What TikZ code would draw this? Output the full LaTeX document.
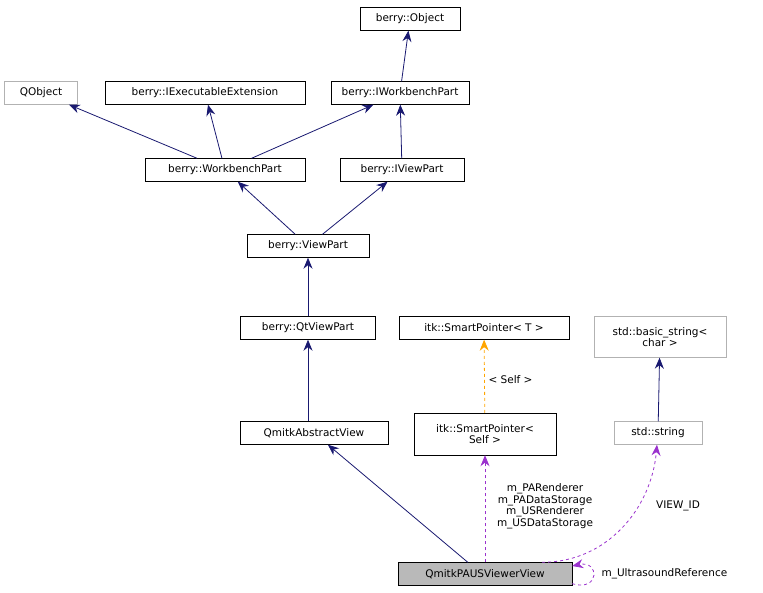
\documentclass[tikz,border=0pt]{standalone}
\usepackage{fontspec}
\setmainfont{DejaVu Sans}
\usetikzlibrary{arrows.meta}
\definecolor{edgeblue}{HTML}{191970}
\definecolor{usepurple}{HTML}{9A32CD}
\definecolor{tplorange}{HTML}{FFA500}
\begin{document}
\begin{tikzpicture}[x=1pt,y=-1pt,font=\fontsize{10.5}{11.5}\selectfont,
  cls/.style={draw=black,fill=white,inner sep=2pt,minimum height=23pt,align=center},
  ext/.style={cls,draw=gray!60},
  inh/.style={-{Stealth[length=11pt,width=9pt]},color=edgeblue,line width=0.8pt},
  use/.style={-{Stealth[length=11pt,width=9pt]},color=usepurple,dashed,line width=0.8pt},
  tpl/.style={-{Stealth[length=11pt,width=9pt]},color=tplorange,dashed,line width=0.8pt}]
\useasboundingbox (0,0) rectangle (763,593);
%\draw[help lines] (0,0) grid (763,593);
\node[cls,minimum width=100pt] (obj) at (410,19) {berry::Object};
\node[ext,minimum width=73pt] (qobj) at (41,93) {QObject};
\node[cls,minimum width=200pt] (iext) at (205,93) {berry::IExecutableExtension};
\node[cls,minimum width=138pt] (iwbp) at (400,93) {berry::IWorkbenchPart};
\node[cls,minimum width=160pt] (wbp) at (225,170) {berry::WorkbenchPart};
\node[cls,minimum width=124pt] (ivp) at (402,170) {berry::IViewPart};
\node[cls,minimum width=122pt] (vp) at (308,246) {berry::ViewPart};
\node[cls,minimum width=135pt] (qtvp) at (308,328) {berry::QtViewPart};
\node[cls,minimum width=148pt] (qav) at (314,433) {QmitkAbstractView};
\node[cls,minimum width=170pt] (spt) at (484,328) {itk::SmartPointer< T >};
\node[cls,minimum width=142pt,minimum height=42pt] (sps) at (485,434) {itk::SmartPointer<\\Self >};
\node[ext,minimum width=132pt,minimum height=41pt] (bstr) at (660,337) {std::basic\_string<\\char >};
\node[ext,minimum width=88pt] (str) at (658,433) {std::string};
\node[cls,fill=gray!55,minimum width=174pt] (view) at (485,574) {QmitkPAUSViewerView};
% inheritance
\draw[inh] (iwbp) -- (obj);
\draw[inh] (wbp) -- (qobj);
\draw[inh] (wbp) -- (iext);
\draw[inh] (wbp) -- (iwbp);
\draw[inh] (ivp) -- (iwbp);
\draw[inh] (vp) -- (wbp);
\draw[inh] (vp) -- (ivp);
\draw[inh] (qtvp) -- (vp);
\draw[inh] (view.north west) ++(70,0) coordinate (vt) (vt) -- (qav);
\draw[inh] (qav.north) ++(-6,0) coordinate (qt) (qt) -- (qtvp);
\draw[inh] (str) -- (bstr);
% usage
\draw[tpl] (sps) -- (spt);
\node[right] (tlbl) at (485,380) {< Self >};
\draw[use] (view) -- (sps);
\node[align=center] (ulbl) at (545,506) {m\_PARenderer\\m\_PADataStorage\\m\_USRenderer\\m\_USDataStorage};
\draw[use] (view.north east) ++(-30,0) coordinate (ve) (ve) to[out=0,in=-95] (str);
\node (vlbl) at (678,506) {VIEW\_ID};
\draw[use] (view.south east) ++(0,-2) coordinate (vs) (vs) .. controls (600,592) and (600,560) .. (view.east |- 0,566);
\node[anchor=west] (selflbl) at (598,574) {m\_UltrasoundReference};
\end{tikzpicture}
\end{document}
